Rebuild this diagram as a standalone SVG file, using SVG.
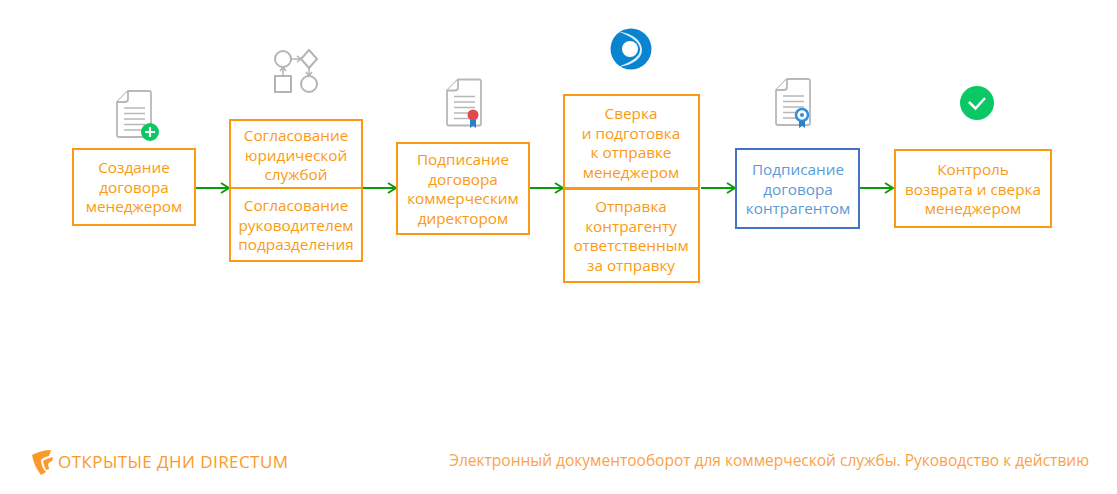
<svg xmlns="http://www.w3.org/2000/svg" width="1117" height="494" viewBox="0 0 1117 494">
<style>
text{font-family:"Open Sans","Noto Sans","Liberation Sans",sans-serif;font-size:15.300px;text-anchor:middle;fill:#fb9a12}
.b{fill:#fff;stroke:#fb9a12;stroke-width:2}
.bl{fill:#fff;stroke:#4472c4;stroke-width:2}
.c{fill:none;stroke:#0a9b0a;stroke-width:2}
.g{fill:#fff;stroke:#b8b8b8;stroke-width:1.800}
.l{stroke:#b8b8b8;stroke-width:1.500}
.bt{fill:#5b9bd5}
</style>
<defs>
<marker id="a" markerUnits="userSpaceOnUse" markerWidth="10" markerHeight="12" refX="9" refY="6" orient="auto"><path d="M1 1L9 6L1 11" fill="none" stroke="#0a9b0a" stroke-width="2"/></marker>
<g id="doc"><path class="g" d="M12 1H33Q35 1 35 3V45Q35 47 33 47H3Q1 47 1 45V12Z"/><path class="g" d="M1 12H9Q12 12 12 9V1" fill="none"/><path class="l" d="M8 18H29M8 23.500H29M8 29H29M8 34.500H29M8 40H26"/></g>
</defs>
<g id="connectors">
<path class="c" marker-end="url(#a)" d="M195 188H229"/>
<path class="c" marker-end="url(#a)" d="M363 188H396"/>
<path class="c" marker-end="url(#a)" d="M530 188H563"/>
<path class="c" marker-end="url(#a)" d="M701 188H735"/>
<path class="c" marker-end="url(#a)" d="M860 188H893"/>
</g>
<g id="n1"><use href="#doc" x="116" y="90"/><circle cx="150" cy="132" r="9" fill="#0ac864"/><path d="M150 127V137M145 132H155" stroke="#fff" stroke-width="2.200"/>
<rect class="b" x="73" y="149" width="122" height="76"/><text><tspan x="134" y="173">Создание</tspan><tspan x="134" y="193">договора</tspan><tspan x="134" y="212">менеджером</tspan></text></g>
<g id="n2"><g fill="none" stroke="#b4b4b4" stroke-width="2"><circle cx="283" cy="59" r="8"/><rect x="275" y="76" width="16" height="16"/><path d="M309 50L317 59L309 68L301 59Z"/><circle cx="309" cy="84" r="8"/><path d="M291 59H301M297 56L301 59L297 62M283 76V67M280 71L283 67L286 71M309 68V76M306 72L309 76L312 72" stroke-width="1.500"/></g>
<rect class="b" x="230" y="120" width="132" height="141"/><path d="M230 188H362" stroke="#fb9a12" stroke-width="2"/>
<text><tspan x="296" y="141">Согласование</tspan><tspan x="296" y="161">юридической</tspan><tspan x="296" y="180">службой</tspan></text><text><tspan x="296" y="211">Согласование</tspan><tspan x="296" y="231">руководителем</tspan><tspan x="296" y="250">подразделения</tspan></text></g>
<g id="n3"><use href="#doc" x="446" y="78.500"/><circle cx="473" cy="115" r="5.500" fill="#e04a4f"/><path d="M470 120H476V128L473 126L470 128Z" fill="#2f7fc8"/>
<rect class="b" x="397" y="143" width="132" height="91"/><text><tspan x="463" y="165">Подписание</tspan><tspan x="463" y="185">договора</tspan><tspan x="463" y="204">коммерческим</tspan><tspan x="463" y="224">директором</tspan></text></g>
<g id="n4"><circle cx="631" cy="49" r="20.500" fill="#0a84d0"/><path d="M618 31.500C634 33 642 42 642 50C642 58 634 65 618 67C631 62 640 57 640 49.500C640 42 631 36 618 31.500Z" fill="#fff" opacity=".85"/><circle cx="630" cy="49" r="8" fill="#fff"/>
<rect class="b" x="564" y="95" width="135" height="187"/><path d="M564 188.500H699" stroke="#fb9a12" stroke-width="3"/>
<text><tspan x="631" y="119">Сверка</tspan><tspan x="631" y="139">и подготовка</tspan><tspan x="631" y="158">к отправке</tspan><tspan x="631" y="178">менеджером</tspan></text><text><tspan x="631" y="212">Отправка</tspan><tspan x="631" y="232">контрагенту</tspan><tspan x="631" y="251">ответственным</tspan><tspan x="631" y="271">за отправку</tspan></text></g>
<g id="n5"><use href="#doc" x="775" y="78"/><circle cx="802" cy="115" r="6" fill="#fff" stroke="#2f8fdc" stroke-width="2.500"/><circle cx="802" cy="115" r="2" fill="#2f8fdc"/><path d="M799 121H805V128L802 126L799 128Z" fill="#2f7fc8"/>
<rect class="bl" x="736" y="149" width="123" height="79"/><text class="bt"><tspan x="798" y="175">Подписание</tspan><tspan x="798" y="195">договора</tspan><tspan x="798" y="214">контрагентом</tspan></text></g>
<g id="n6"><circle cx="977" cy="103" r="17" fill="#0ac864"/><path d="M969 102L975.500 108.500L985 98" fill="none" stroke="#fff" stroke-width="2.500"/>
<rect class="b" x="895" y="150" width="156" height="77"/><text><tspan x="973" y="175">Контроль</tspan><tspan x="973" y="195">возврата и сверка</tspan><tspan x="973" y="214">менеджером</tspan></text></g>
<g id="footer"><path d="M32 455Q42 450 51 450L49 456Q43 457 41 460Q41 467 46 472L41 475Q34 466 32 455Z" fill="#fb9a2a"/><path d="M43 461Q48 458 53 457L52 461Q49 462 48 464L49 469L46 470Q44 466 43 461Z" fill="#fb9a2a"/>
<text x="58" y="468" style="text-anchor:start;font-size:17px;fill:#fb9a2a" textLength="230">ОТКРЫТЫЕ ДНИ DIRECTUM</text>
<text x="1089" y="466" style="text-anchor:end;font-size:15.500px;fill:#fba24a">Электронный документооборот для коммерческой службы. Руководство к действию</text></g>
</svg>
